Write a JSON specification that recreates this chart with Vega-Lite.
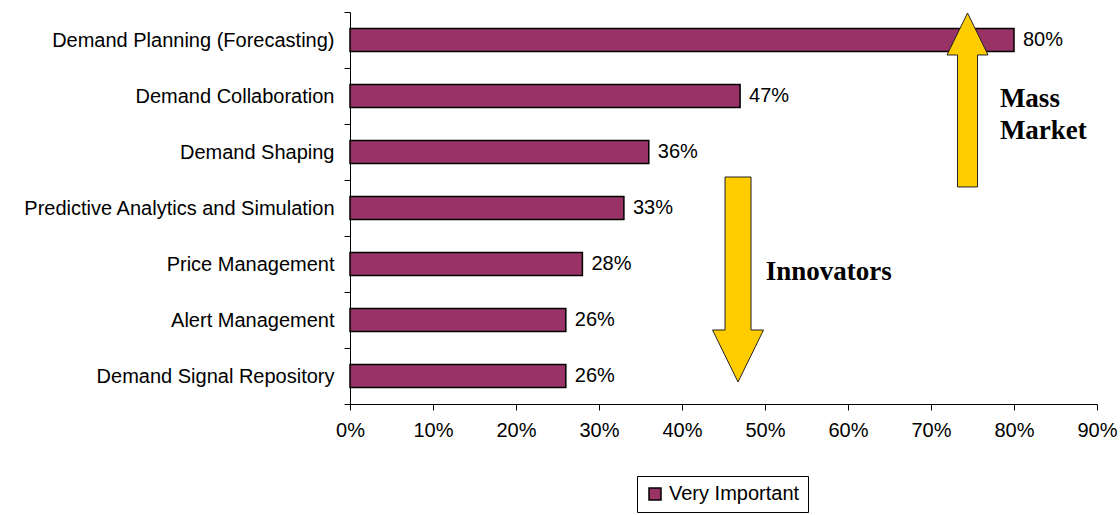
{
  "$schema": "https://vega.github.io/schema/vega-lite/v6.json",
  "width": 747,
  "height": 392,
  "autosize": {"type": "none"},
  "padding": {"left": 350, "top": 12, "right": 23, "bottom": 111},
  "background": "white",
  "config": {
    "view": {"stroke": null},
    "font": "Liberation Sans",
    "axis": {
      "labelFont": "Liberation Sans",
      "labelFontSize": 20,
      "labelColor": "black",
      "domainColor": "black",
      "domainWidth": 1,
      "tickColor": "black",
      "tickWidth": 1,
      "tickSize": 6,
      "grid": false,
      "title": null
    },
    "legend": {
      "orient": "none",
      "legendX": 287,
      "legendY": 464,
      "strokeColor": "black",
      "fillColor": "white",
      "padding": 8,
      "labelFont": "Liberation Sans",
      "labelFontSize": 20,
      "labelColor": "black",
      "symbolType": "square",
      "symbolSize": 144,
      "symbolStrokeColor": "black",
      "symbolStrokeWidth": 1.5,
      "title": null
    }
  },
  "datasets": {
    "bars": [
      {"item": "Demand Planning (Forecasting)", "pct": 0.80, "series": "Very Important"},
      {"item": "Demand Collaboration", "pct": 0.47, "series": "Very Important"},
      {"item": "Demand Shaping", "pct": 0.36, "series": "Very Important"},
      {"item": "Predictive Analytics and Simulation", "pct": 0.33, "series": "Very Important"},
      {"item": "Price Management", "pct": 0.28, "series": "Very Important"},
      {"item": "Alert Management", "pct": 0.26, "series": "Very Important"},
      {"item": "Demand Signal Repository", "pct": 0.26, "series": "Very Important"}
    ],
    "arrows": [
      {"dir": "up", "pct": 0.744, "py": 1.571},
      {"dir": "down", "pct": 0.4675, "py": 4.777}
    ],
    "notes": [
      {"label": "Mass", "pct": 0.783, "py": 1.696},
      {"label": "Market", "pct": 0.783, "py": 2.268},
      {"label": "Innovators", "pct": 0.501, "py": 4.786}
    ]
  },
  "layer": [
    {
      "data": {"name": "bars"},
      "encoding": {
        "y": {
          "field": "item",
          "type": "nominal",
          "sort": null,
          "scale": {"paddingInner": 0, "paddingOuter": 0},
          "axis": {"tickBand": "extent", "labelPadding": 10, "labelLimit": 400}
        },
        "x": {
          "field": "pct",
          "type": "quantitative",
          "scale": {"domain": [0, 0.9], "nice": false, "zero": true},
          "axis": {
            "values": [0, 0.1, 0.2, 0.3, 0.4, 0.5, 0.6, 0.7, 0.8, 0.9],
            "format": ".0%",
            "labelPadding": 10,
            "labelFlush": false,
            "labelOverlap": false
          }
        }
      },
      "layer": [
        {
          "mark": {"type": "bar", "height": {"band": 0.41}, "stroke": "black", "strokeWidth": 1.5},
          "encoding": {
            "color": {
              "field": "series",
              "type": "nominal",
              "scale": {"range": ["#993366"]},
              "legend": {"symbolStrokeColor": "black", "symbolStrokeWidth": 1.5}
            }
          }
        },
        {
          "mark": {"type": "text", "align": "left", "baseline": "middle", "dx": 9, "fontSize": 20, "font": "Liberation Sans", "color": "black"},
          "encoding": {"text": {"field": "pct", "format": ".0%"}}
        }
      ]
    },
    {
      "data": {"name": "arrows"},
      "mark": {"type": "point", "filled": true, "fill": "#FFCC00", "stroke": "#222222", "strokeWidth": 1, "opacity": 1, "fillOpacity": 1, "size": 4},
      "encoding": {
        "x": {"field": "pct", "type": "quantitative", "scale": {"domain": [0, 0.9], "nice": false}},
        "y": {"field": "py", "type": "quantitative", "scale": {"domain": [0, 7], "reverse": true, "nice": false, "zero": false}, "axis": null},
        "shape": {
          "field": "dir",
          "type": "nominal",
          "scale": {
            "domain": ["up", "down"],
            "range": [
              "M0,-87L20.5,-45L10,-45L10,87L-10,87L-10,-45L-20.5,-45Z",
              "M-13,-102.5L13,-102.5L13,50.5L25.5,50.5L0,102.5L-25.5,50.5L-13,50.5Z"
            ]
          },
          "legend": null
        }
      }
    },
    {
      "data": {"name": "notes"},
      "mark": {"type": "text", "font": "Liberation Serif", "fontWeight": "bold", "fontSize": 27, "align": "left", "baseline": "alphabetic", "color": "black"},
      "encoding": {
        "x": {"field": "pct", "type": "quantitative", "scale": {"domain": [0, 0.9], "nice": false}},
        "y": {"field": "py", "type": "quantitative", "scale": {"domain": [0, 7], "reverse": true, "nice": false, "zero": false}, "axis": null},
        "text": {"field": "label"}
      }
    }
  ],
  "resolve": {"scale": {"y": "independent"}}
}
